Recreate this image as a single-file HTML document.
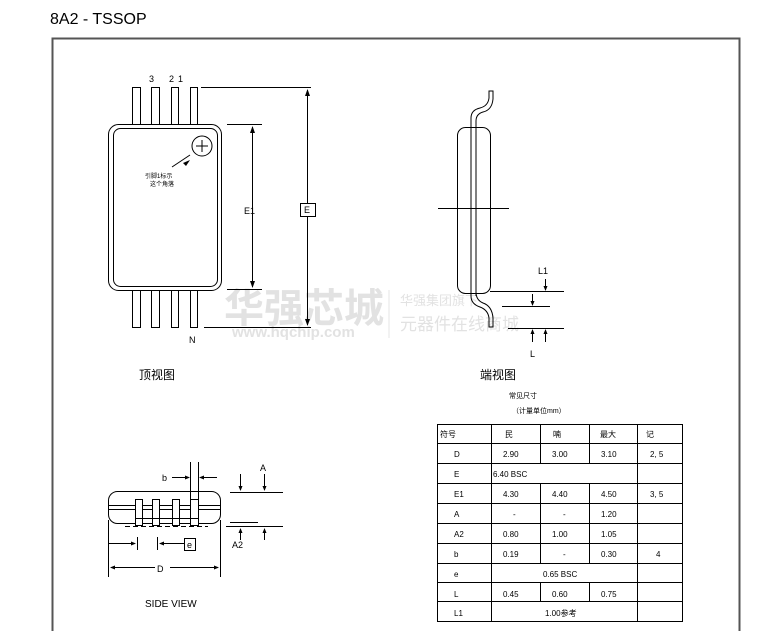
<!DOCTYPE html>
<html><head><meta charset="utf-8"><style>
html,body{margin:0;padding:0;background:#fff;}
svg{display:block;}
text{font-family:"Liberation Sans","Noto Sans CJK SC",sans-serif;fill:#000;}
</style></head><body>
<svg width="758" height="631" viewBox="0 0 758 631" xmlns="http://www.w3.org/2000/svg">
<text x="50" y="24" font-size="16">8A2 - TSSOP</text>
<path d="M52.5 640 V38.5 H739.5 V640" fill="none" stroke="#555" stroke-width="2"/>

<!-- watermark -->
<g fill="#e4e4e4">
<text x="224" y="322" font-size="40" font-weight="bold" style="fill:#e2e2e2">华强芯城</text>
<text x="232" y="337" font-size="15" font-weight="bold" style="fill:#e2e2e2">www.hqchip.com</text>
<text x="400" y="305" font-size="13" style="fill:#e2e2e2">华强集团旗下</text>
<text x="400" y="330" font-size="17" style="fill:#e2e2e2">元器件在线商城</text>
</g>
<line x1="389" y1="290" x2="389" y2="338" stroke="#e6e6e6"/>

<g stroke="#000" stroke-width="1" fill="none">
<!-- top view leads -->
<rect x="132.5" y="87.5" width="8" height="37"/>
<rect x="151.5" y="87.5" width="8" height="37"/>
<rect x="171.5" y="87.5" width="7" height="37"/>
<rect x="190.5" y="87.5" width="7" height="37"/>
<rect x="132.5" y="290.5" width="8" height="37"/>
<rect x="151.5" y="290.5" width="8" height="37"/>
<rect x="171.5" y="290.5" width="7" height="37"/>
<rect x="190.5" y="290.5" width="7" height="37"/>
<rect x="108.5" y="124.5" width="113" height="166" rx="10" fill="#fff"/>
<rect x="113.5" y="128.5" width="104" height="158" rx="7"/>
<circle cx="202" cy="146" r="10"/>
<line x1="196" y1="146" x2="208" y2="146"/><line x1="202" y1="140" x2="202" y2="152"/>
<line x1="172" y1="167" x2="190" y2="155"/>
<!-- E1 -->
<line x1="227" y1="124.5" x2="262" y2="124.5"/>
<line x1="227" y1="289.5" x2="262" y2="289.5"/>
<line x1="252.5" y1="127" x2="252.5" y2="287"/>
<!-- E -->
<line x1="201" y1="87.5" x2="311" y2="87.5"/>
<line x1="204" y1="327.5" x2="311" y2="327.5"/>
<line x1="307.5" y1="90" x2="307.5" y2="325"/>
<rect x="300.5" y="203.5" width="15" height="13" fill="#fff"/>

<!-- end view -->
<rect x="457.5" y="127.5" width="33" height="166" rx="8"/>
<path d="M471 296 V118 Q471 110 480 108 Q488 106 489 98 V91 H493 V99 Q492 110 483 112 Q476 114 476 121 V296"/>
<path d="M471 290 V296 Q471 304 480 307 Q488 310 489 318 V327 H493 V318 Q492 306 483 303 Q476 300 476 292"/>
<line x1="438" y1="208.5" x2="509" y2="208.5"/>
<line x1="490" y1="291.5" x2="564" y2="291.5"/>
<line x1="502" y1="306.5" x2="550" y2="306.5"/>
<line x1="508" y1="328.5" x2="564" y2="328.5"/>
<line x1="545.5" y1="279" x2="545.5" y2="290"/>
<line x1="532.5" y1="294" x2="532.5" y2="305"/>
<line x1="532.5" y1="330" x2="532.5" y2="342"/>
<line x1="545.5" y1="330" x2="545.5" y2="342"/>

<!-- side view -->
<rect x="108.5" y="491.5" width="112" height="32" rx="9"/>
<line x1="109" y1="505.5" x2="220" y2="505.5"/>
<line x1="109" y1="509.5" x2="220" y2="509.5"/>
<rect x="135.5" y="499.5" width="7" height="26" fill="#fff"/>
<rect x="152.5" y="499.5" width="7" height="26" fill="#fff"/>
<rect x="172.5" y="499.5" width="7" height="26" fill="#fff"/>
<rect x="190.5" y="499.5" width="8" height="26" fill="#fff"/>
<line x1="135" y1="518.5" x2="199" y2="518.5"/>
<line x1="125" y1="526.5" x2="208" y2="526.5" stroke-dasharray="5,3"/>
<line x1="190.5" y1="462" x2="190.5" y2="500"/>
<line x1="198.5" y1="462" x2="198.5" y2="500"/>
<line x1="172" y1="477.5" x2="188" y2="477.5"/>
<line x1="201" y1="477.5" x2="217" y2="477.5"/>
<line x1="230" y1="492.5" x2="283" y2="492.5"/>
<line x1="240.5" y1="474" x2="240.5" y2="490"/>
<line x1="264.5" y1="474" x2="264.5" y2="490"/>
<line x1="226" y1="526.5" x2="283" y2="526.5"/>
<line x1="230" y1="522.5" x2="258" y2="522.5"/>
<line x1="240.5" y1="529" x2="240.5" y2="540"/>
<line x1="264.5" y1="529" x2="264.5" y2="540"/>
<line x1="108.5" y1="520" x2="108.5" y2="577"/>
<line x1="220.5" y1="520" x2="220.5" y2="577"/>
<line x1="111" y1="567.5" x2="155" y2="567.5"/>
<line x1="170" y1="567.5" x2="218" y2="567.5"/>
<line x1="137.5" y1="537" x2="137.5" y2="550"/>
<line x1="157.5" y1="537" x2="157.5" y2="550"/>
<line x1="109" y1="543.5" x2="134" y2="543.5"/>
<line x1="160" y1="543.5" x2="184" y2="543.5"/>
<rect x="184.5" y="538.5" width="11" height="12"/>
</g>
<!-- arrowheads -->
<g fill="#000">
<path d="M252.5 126 l-2.5 7 h5z"/><path d="M252.5 288 l-2.5 -7 h5z"/>
<path d="M307.5 89 l-2.5 7 h5z"/><path d="M307.5 326 l-2.5 -7 h5z"/>
<path d="M190 160 l-7 3 l3 3z"/>
<path d="M545.5 291 l-2 -5 h4z"/><path d="M532.5 306 l-2 -5 h4z"/>
<path d="M532.5 329 l-2 5 h4z"/><path d="M545.5 329 l-2 5 h4z"/>
<path d="M190 477.5 l-5 -2 v4z"/><path d="M199 477.5 l5 -2 v4z"/>
<path d="M240.5 491 l-2 -5 h4z"/><path d="M264.5 491 l-2 -5 h4z"/>
<path d="M240.5 528 l-2 5 h4z"/><path d="M264.5 528 l-2 5 h4z"/>
<path d="M110 567.5 l5 -2 v4z"/><path d="M219 567.5 l-5 -2 v4z"/>
<path d="M136 543.5 l-5 -2 v4z"/><path d="M159 543.5 l5 -2 v4z"/>
</g>
<text x="149" y="82" font-size="9">3</text>
<text x="169" y="82" font-size="9">2</text>
<text x="178" y="82" font-size="9">1</text>
<text x="145" y="178" font-size="6">引脚1标示</text>
<text x="150" y="186" font-size="6">这个角落</text>
<text x="244" y="214" font-size="9">E1</text>
<text x="304" y="213" font-size="9">E</text>
<text x="189" y="343" font-size="9">N</text>
<text x="139" y="379" font-size="12">顶视图</text>
<text x="480" y="379" font-size="12">端视图</text>
<text x="538" y="274" font-size="9">L1</text>
<text x="530" y="357" font-size="9">L</text>
<text x="162" y="481" font-size="9">b</text>
<text x="260" y="471" font-size="9">A</text>
<text x="232" y="548" font-size="9">A2</text>
<text x="187" y="548" font-size="9">e</text>
<text x="157" y="572" font-size="9">D</text>
<text x="145" y="607" font-size="10">SIDE VIEW</text>

<!-- table -->
<text x="509" y="398" font-size="7">常见尺寸</text>
<text x="512" y="413" font-size="7">（计量单位mm）</text>
<g stroke="#000" stroke-width="1" fill="none">
<rect x="437.5" y="424.5" width="245" height="197"/>
<line x1="438" y1="443.5" x2="682" y2="443.5"/>
<line x1="438" y1="463.5" x2="682" y2="463.5"/>
<line x1="438" y1="483.5" x2="682" y2="483.5"/>
<line x1="438" y1="503.5" x2="682" y2="503.5"/>
<line x1="438" y1="523.5" x2="682" y2="523.5"/>
<line x1="438" y1="543.5" x2="682" y2="543.5"/>
<line x1="438" y1="563.5" x2="682" y2="563.5"/>
<line x1="438" y1="582.5" x2="682" y2="582.5"/>
<line x1="438" y1="601.5" x2="682" y2="601.5"/>
<line x1="491.5" y1="425" x2="491.5" y2="621"/>
<line x1="540.5" y1="425" x2="540.5" y2="463"/><line x1="540.5" y1="483" x2="540.5" y2="563"/><line x1="540.5" y1="582" x2="540.5" y2="601"/>
<line x1="589.5" y1="425" x2="589.5" y2="463"/><line x1="589.5" y1="483" x2="589.5" y2="563"/><line x1="589.5" y1="582" x2="589.5" y2="601"/>
<line x1="637.5" y1="425" x2="637.5" y2="621"/>
</g>
<g font-size="8">
<text x="440" y="437">符号</text><text x="505" y="437">民</text><text x="553" y="437">喃</text><text x="600" y="437">最大</text><text x="646" y="437">记</text>
<text x="454" y="457">D</text><text x="503" y="457">2.90</text><text x="552" y="457">3.00</text><text x="601" y="457">3.10</text><text x="650" y="457">2, 5</text>
<text x="454" y="477">E</text><text x="493" y="477">6.40 BSC</text>
<text x="454" y="497">E1</text><text x="503" y="497">4.30</text><text x="552" y="497">4.40</text><text x="601" y="497">4.50</text><text x="650" y="497">3, 5</text>
<text x="454" y="517">A</text><text x="513" y="517">-</text><text x="563" y="517">-</text><text x="601" y="517">1.20</text>
<text x="454" y="537">A2</text><text x="503" y="537">0.80</text><text x="552" y="537">1.00</text><text x="601" y="537">1.05</text>
<text x="454" y="557">b</text><text x="503" y="557">0.19</text><text x="563" y="557">-</text><text x="601" y="557">0.30</text><text x="656" y="557">4</text>
<text x="454" y="577">e</text><text x="543" y="577">0.65 BSC</text>
<text x="454" y="597">L</text><text x="503" y="597">0.45</text><text x="552" y="597">0.60</text><text x="601" y="597">0.75</text>
<text x="454" y="616">L1</text><text x="545" y="616">1.00参考</text>
</g>
</svg>
</body></html>
